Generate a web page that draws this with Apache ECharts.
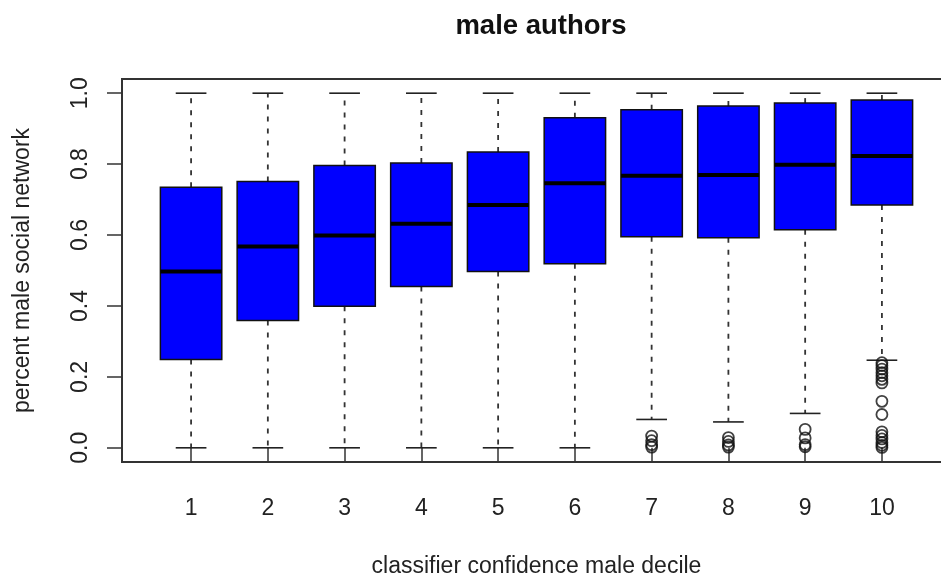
<!DOCTYPE html>
<html>
<head>
<meta charset="utf-8">
<script src="https://cdn.jsdelivr.net/npm/echarts@6/dist/echarts.min.js"></script>
<style>html,body{margin:0;padding:0;background:#fff}#c{width:941px;height:576px}</style>
</head>
<body>
<div id="c"></div>
<script>
var deciles = [1, 2, 3, 4, 5, 6, 7, 8, 9, 10];
var whiskerLow = [0, 0, 0, 0, 0, 0, 0.08, 0.073, 0.097, 0.247];
var q1 = [0.249, 0.359, 0.399, 0.455, 0.497, 0.519, 0.595, 0.592, 0.615, 0.685];
var median = [0.497, 0.568, 0.599, 0.632, 0.685, 0.746, 0.767, 0.769, 0.798, 0.823];
var q3 = [0.735, 0.751, 0.796, 0.803, 0.834, 0.931, 0.953, 0.964, 0.972, 0.981];
var whiskerHigh = [1, 1, 1, 1, 1, 1, 1, 1, 1, 1];
var outliers7 = [0.033, 0.02, 0.009, 0.002];
var outliers8 = [0.029, 0.018, 0.008, 0.002];
var outliers9 = [0.052, 0.028, 0.009, 0.003];
var outliers10 = [0.24, 0.232, 0.222, 0.212, 0.203, 0.193, 0.183, 0.131, 0.094, 0.045, 0.035, 0.025, 0.015, 0.007, 0.001];
var yTicks = [0, 0.2, 0.4, 0.6, 0.8, 1.0];

var boxData = deciles.map(function (d, i) {
  return [d, whiskerLow[i], q1[i], median[i], q3[i], whiskerHigh[i]];
});
var outlierData = [];
[[7, outliers7], [8, outliers8], [9, outliers9], [10, outliers10]].forEach(function (p) {
  p[1].forEach(function (v) { outlierData.push([p[0], v]); });
});

var FONT = 'Liberation Sans, Arial, Helvetica, sans-serif';
var chart = echarts.init(document.getElementById('c'), null, {renderer: 'canvas'});
chart.setOption({
  animation: false,
  backgroundColor: '#fff',
  title: {
    text: 'male authors',
    left: 536,
    textAlign: 'center',
    top: 7,
    textStyle: {fontFamily: FONT, fontSize: 27.5, fontWeight: 'bold', color: '#111'}
  },
  grid: {
    left: 122, top: 79, width: 829, height: 383,
    outerBoundsMode: 'none', containLabel: false,
    show: true, borderColor: '#333', borderWidth: 2, backgroundColor: 'transparent'
  },
  xAxis: {
    type: 'value', min: 0.1, max: 10.9,
    name: 'classifier confidence male decile',
    nameLocation: 'middle', nameGap: 93,
    nameTextStyle: {fontFamily: FONT, fontSize: 23, color: '#222'},
    axisLine: {show: false},
    splitLine: {show: false},
    axisTick: {show: true, length: 14, customValues: deciles, lineStyle: {color: '#333', width: 1.5}},
    axisLabel: {customValues: deciles, fontFamily: FONT, fontSize: 23, color: '#222', margin: 35}
  },
  yAxis: {
    type: 'value', min: -0.04, max: 1.04,
    name: 'percent male social network',
    nameLocation: 'middle', nameGap: 88,
    nameTextStyle: {fontFamily: FONT, fontSize: 23, color: '#222'},
    axisLine: {show: false},
    splitLine: {show: false},
    axisTick: {show: true, length: 15, customValues: yTicks, lineStyle: {color: '#333', width: 1.5}},
    axisLabel: {customValues: yTicks, rotate: 90, fontFamily: FONT, fontSize: 23, color: '#222', margin: 30,
      formatter: function (v) { return Number(v).toFixed(1); }}
  },
  series: [{
    type: 'custom',
    data: boxData,
    encode: {x: 0, y: [1, 2, 3, 4, 5]},
    renderItem: function (params, api) {
      var x = api.value(0);
      var pLo = api.coord([x, api.value(1)]);
      var pQ1 = api.coord([x, api.value(2)]);
      var pMed = api.coord([x, api.value(3)]);
      var pQ3 = api.coord([x, api.value(4)]);
      var pHi = api.coord([x, api.value(5)]);
      var bw = api.size([0.8, 0])[0];
      var cw = api.size([0.4, 0])[0];
      var cx = pMed[0];
      var dash = {stroke: '#333', lineWidth: 1.8, lineDash: [5, 7]};
      var solid = {stroke: '#222', lineWidth: 1.6};
      return {
        type: 'group',
        children: [
          {type: 'line', shape: {x1: cx, y1: pQ3[1], x2: cx, y2: pHi[1]}, style: dash},
          {type: 'line', shape: {x1: cx, y1: pQ1[1], x2: cx, y2: pLo[1]}, style: dash},
          {type: 'line', shape: {x1: cx - cw / 2, y1: pHi[1], x2: cx + cw / 2, y2: pHi[1]}, style: solid},
          {type: 'line', shape: {x1: cx - cw / 2, y1: pLo[1], x2: cx + cw / 2, y2: pLo[1]}, style: solid},
          {type: 'rect', shape: {x: cx - bw / 2, y: pQ3[1], width: bw, height: pQ1[1] - pQ3[1]},
            style: {fill: '#0000ff', stroke: '#111', lineWidth: 1.5}},
          {type: 'line', shape: {x1: cx - bw / 2, y1: pMed[1], x2: cx + bw / 2, y2: pMed[1]},
            style: {stroke: '#000', lineWidth: 4}}
        ]
      };
    }
  }, {
    type: 'scatter',
    data: outlierData,
    symbol: 'circle',
    symbolSize: 11,
    itemStyle: {color: 'rgba(0,0,0,0)', borderColor: '#111', borderWidth: 1.8}
  }]
});
</script>
</body>
</html>
